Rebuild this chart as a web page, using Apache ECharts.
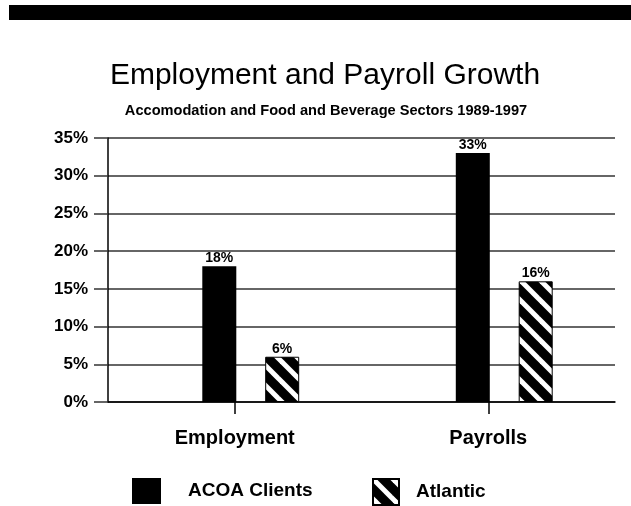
<!DOCTYPE html>
<html>
<head>
<meta charset="utf-8">
<script src="https://cdn.jsdelivr.net/npm/echarts@6/dist/echarts.min.js"></script>
<style>
  html, body { margin: 0; padding: 0; background: #fff; }
  #chart { width: 631px; height: 506px; }
</style>
</head>
<body>
<div id="chart"></div>
<script>
// Growth 1989-1997, per cent
const categories = ['Employment', 'Payrolls'];
const acoaClients = [18, 33];
const atlantic = [6, 16];
const yTicks = { min: 0, max: 35, interval: 5 };

const FONT = '"Liberation Sans", Arial, sans-serif';

// Diagonal hatch used for the Atlantic series
function makeHatch() {
  const size = 20;
  const c = document.createElement('canvas');
  c.width = size; c.height = size;
  const ctx = c.getContext('2d');
  ctx.fillStyle = '#000';
  ctx.fillRect(0, 0, size, size);
  ctx.strokeStyle = '#fff';
  ctx.lineWidth = 5;
  for (let k = -1; k <= 1; k++) {
    ctx.beginPath();
    ctx.moveTo(k * size - 2, -2);
    ctx.lineTo(k * size + size + 2, size + 2);
    ctx.stroke();
  }
  return c;
}
const hatch = { image: makeHatch(), repeat: 'repeat' };

const chart = echarts.init(document.getElementById('chart'), null, { renderer: 'canvas' });

const gridTop = 138, gridBottom = 104;
const barLabel = { show: true, position: 'top', distance: 1, formatter: '{c}%',
  fontFamily: FONT, fontSize: 14, fontWeight: 'bold', color: '#000' };

chart.setOption({
  animation: false,
  backgroundColor: '#fff',
  graphic: [
    { type: 'rect', shape: { x: 9, y: 5, width: 622, height: 15 }, style: { fill: '#000' }, silent: true },
    { type: 'text', style: { text: 'Employment and Payroll Growth', x: 325, y: 76, align: 'center', verticalAlign: 'middle',
        fontFamily: FONT, fontSize: 30, fill: '#000' } },
    { type: 'text', style: { text: 'Accomodation and Food and Beverage Sectors 1989-1997', x: 326, y: 111, align: 'center', verticalAlign: 'middle',
        fontFamily: FONT, fontSize: 14.6, fontWeight: 'bold', fill: '#000' } }
  ],
  legend: [
    { data: ['ACOA Clients'], left: 132, top: 478, padding: 0, icon: 'rect', itemWidth: 29, itemHeight: 26,
      textStyle: { fontFamily: FONT, fontSize: 19, fontWeight: 'bold', color: '#000', padding: [0, 0, 0, 22] } },
    { data: ['Atlantic'], left: 372, top: 478, padding: 0, icon: 'rect', itemWidth: 26, itemHeight: 26,
      textStyle: { fontFamily: FONT, fontSize: 19, fontWeight: 'bold', color: '#000', padding: [0, 0, 0, 12] } }
  ],
  grid: [
    { left: 108, right: 16, top: gridTop, bottom: gridBottom },
    { left: 124, right: 0, top: gridTop, bottom: gridBottom }
  ],
  xAxis: [
    { type: 'category', gridIndex: 0, data: categories,
      axisLine: { show: true, lineStyle: { color: '#000', width: 1.5 } },
      axisTick: { show: true, alignWithLabel: true, length: 12, lineStyle: { color: '#000', width: 1.5 } },
      axisLabel: { margin: 26, fontFamily: FONT, fontSize: 20, fontWeight: 'bold', color: '#000' } },
    { type: 'category', gridIndex: 1, data: categories, show: false }
  ],
  yAxis: [
    { type: 'value', gridIndex: 0, min: yTicks.min, max: yTicks.max, interval: yTicks.interval,
      axisLine: { show: true, lineStyle: { color: '#000', width: 1.5 } },
      axisTick: { show: true, length: 14, lineStyle: { color: '#333', width: 1.5 } },
      splitLine: { show: true, lineStyle: { color: '#333', width: 1.5 } },
      axisLabel: { margin: 20, formatter: '{value}%', fontFamily: FONT, fontSize: 17, fontWeight: 'bold', color: '#000' } },
    { type: 'value', gridIndex: 1, min: yTicks.min, max: yTicks.max, interval: yTicks.interval, show: false,
      splitLine: { show: false } }
  ],
  series: [
    { name: 'ACOA Clients', type: 'bar', xAxisIndex: 1, yAxisIndex: 1, data: acoaClients,
      barWidth: 34, barGap: '85%', z: 3,
      itemStyle: { color: '#000' },
      label: barLabel },
    { name: 'Atlantic', type: 'bar', xAxisIndex: 1, yAxisIndex: 1, data: atlantic,
      barWidth: 34, barGap: '85%', z: 3,
      itemStyle: { color: hatch, borderColor: '#000', borderWidth: 1 },
      label: barLabel }
  ]
});
</script>
</body>
</html>
